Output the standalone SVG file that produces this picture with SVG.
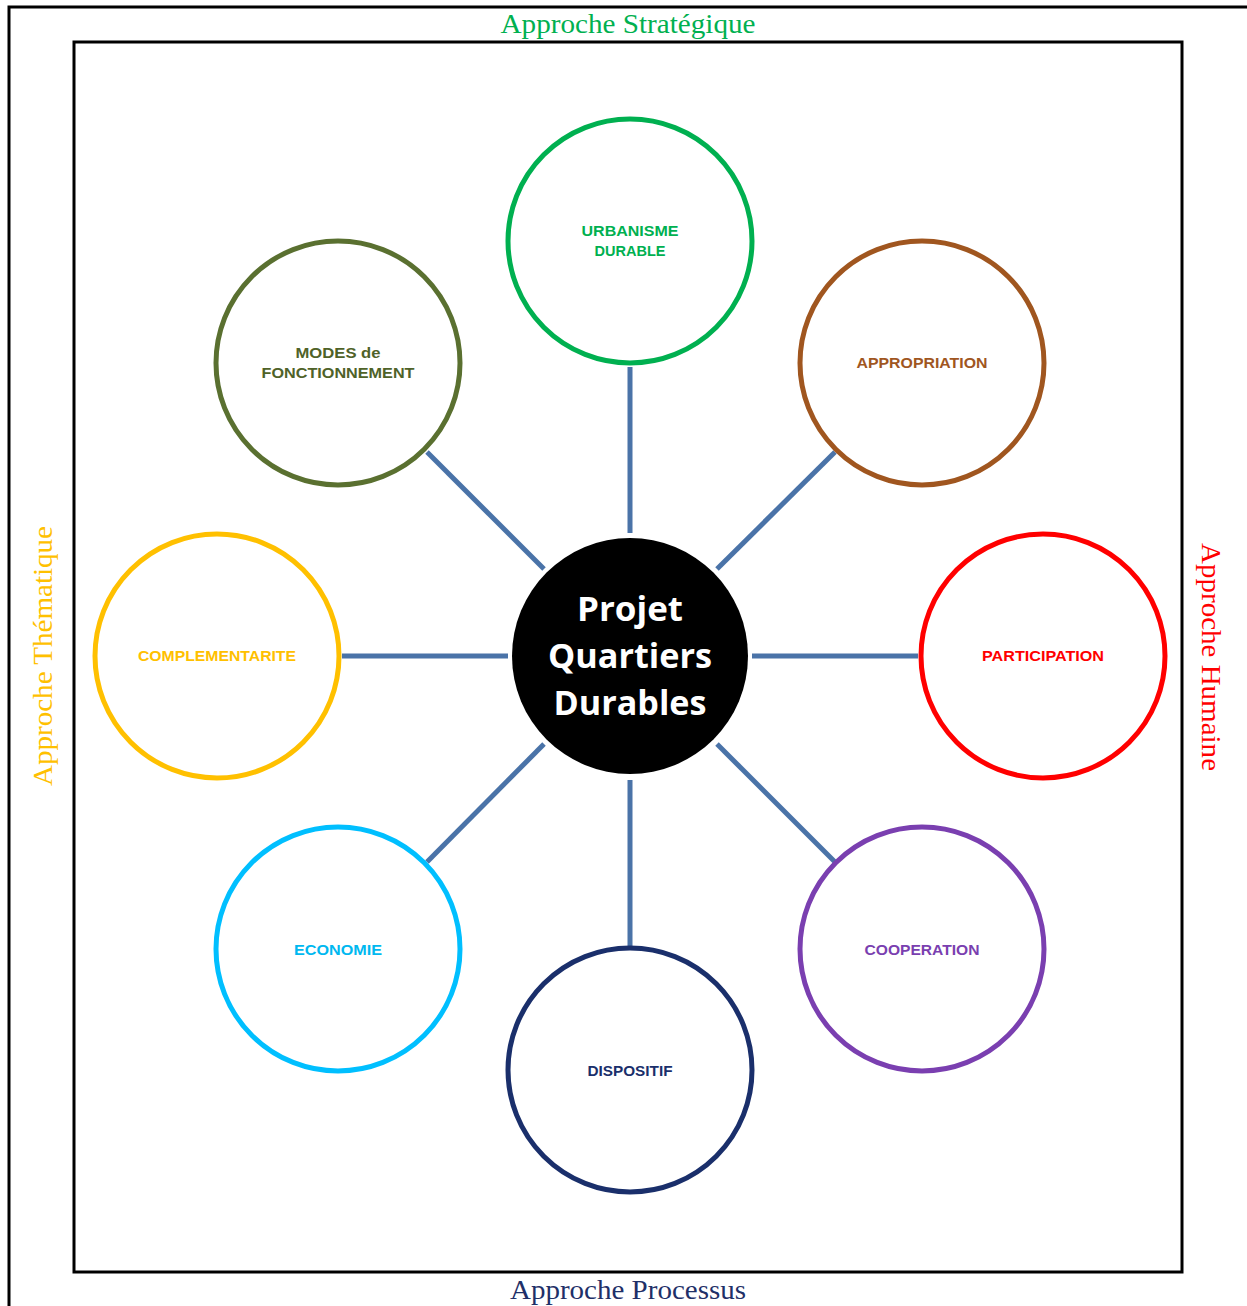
<svg xmlns="http://www.w3.org/2000/svg" width="1247" height="1306" viewBox="0 0 1247 1306">
<style>
.frame{fill:none;stroke:#000;stroke-width:3}
.ring{fill:#fff;stroke-width:5}
.lbl{font-family:"Liberation Sans",Arial,sans-serif;font-weight:bold;font-size:15px;text-anchor:middle}
.side{font-family:"Liberation Serif","Times New Roman",serif;font-size:28px;text-anchor:middle}
.core{font-family:"Open Sans","Noto Sans",sans-serif;font-weight:bold;font-size:34px;fill:#fff;text-anchor:middle}
.conn{stroke:#4a73a8;stroke-width:5;fill:none}
</style>
<rect width="1247" height="1306" fill="#fff"/>
<g id="frames">
<polyline class="frame" points="9,1306 9,7 1247,7"/>
<rect class="frame" x="74" y="42" width="1108" height="1230" stroke-width="2.5"/>
</g>
<g id="side-labels">
<text class="side" x="628" y="33" fill="#00b050" textLength="255" lengthAdjust="spacingAndGlyphs">Approche Stratégique</text>
<text class="side" x="628" y="1299" fill="#1f3068" textLength="236" lengthAdjust="spacingAndGlyphs">Approche Processus</text>
<text class="side" transform="translate(52,656) rotate(-90)" fill="#ffc000" textLength="260" lengthAdjust="spacingAndGlyphs">Approche Thématique</text>
<text class="side" transform="translate(1202,657) rotate(90)" fill="#ff0000" textLength="228" lengthAdjust="spacingAndGlyphs">Approche Humaine</text>
</g>
<g id="connectors">
<line class="conn" x1="630" y1="367" x2="630" y2="533"/>
<line class="conn" x1="630" y1="780" x2="630" y2="946"/>
<line class="conn" x1="342" y1="656" x2="508" y2="656"/>
<line class="conn" x1="752" y1="656" x2="918" y2="656"/>
<line class="conn" x1="427" y1="452" x2="544" y2="569"/>
<line class="conn" x1="835" y1="452" x2="717" y2="569"/>
<line class="conn" x1="427" y1="862" x2="544" y2="744"/>
<line class="conn" x1="835" y1="862" x2="717" y2="744"/>
</g>
<g id="center">
<circle cx="630" cy="656" r="118" fill="#000"/>
<text class="core" x="630" y="621" textLength="106" lengthAdjust="spacingAndGlyphs">Projet</text>
<text class="core" x="630" y="668" textLength="164" lengthAdjust="spacingAndGlyphs">Quartiers</text>
<text class="core" x="630" y="715" textLength="153" lengthAdjust="spacingAndGlyphs">Durables</text>
</g>
<g id="urbanisme">
<circle class="ring" cx="630" cy="241" r="122" stroke="#00b050"/>
<text class="lbl" x="630" y="236" fill="#00b050" textLength="97" lengthAdjust="spacingAndGlyphs">URBANISME</text>
<text class="lbl" x="630" y="256" fill="#00b050" textLength="71" lengthAdjust="spacingAndGlyphs">DURABLE</text>
</g>
<g id="appropriation">
<circle class="ring" cx="922" cy="363" r="122" stroke="#a0561f"/>
<text class="lbl" x="922" y="368" fill="#a0561f" textLength="131" lengthAdjust="spacingAndGlyphs">APPROPRIATION</text>
</g>
<g id="participation">
<circle class="ring" cx="1043" cy="656" r="122" stroke="#ff0000"/>
<text class="lbl" x="1043" y="661" fill="#ff0000" textLength="122" lengthAdjust="spacingAndGlyphs">PARTICIPATION</text>
</g>
<g id="cooperation">
<circle class="ring" cx="922" cy="949" r="122" stroke="#7a3fb0"/>
<text class="lbl" x="922" y="955" fill="#7a3fb0" textLength="115" lengthAdjust="spacingAndGlyphs">COOPERATION</text>
</g>
<g id="dispositif">
<circle class="ring" cx="630" cy="1070" r="122" stroke="#1a2f6b"/>
<text class="lbl" x="630" y="1076" fill="#1a2f6b" textLength="85" lengthAdjust="spacingAndGlyphs">DISPOSITIF</text>
</g>
<g id="economie">
<circle class="ring" cx="338" cy="949" r="122" stroke="#00bfff"/>
<text class="lbl" x="338" y="955" fill="#00b8f0" textLength="88" lengthAdjust="spacingAndGlyphs">ECONOMIE</text>
</g>
<g id="complementarite">
<circle class="ring" cx="217" cy="656" r="122" stroke="#ffc000"/>
<text class="lbl" x="217" y="661" fill="#ffc000" textLength="158" lengthAdjust="spacingAndGlyphs">COMPLEMENTARITE</text>
</g>
<g id="modes">
<circle class="ring" cx="338" cy="363" r="122" stroke="#5a7030"/>
<text class="lbl" x="338" y="358" fill="#4f6228" textLength="85" lengthAdjust="spacingAndGlyphs">MODES de</text>
<text class="lbl" x="338" y="378" fill="#4f6228" textLength="153" lengthAdjust="spacingAndGlyphs">FONCTIONNEMENT</text>
</g>
</svg>
